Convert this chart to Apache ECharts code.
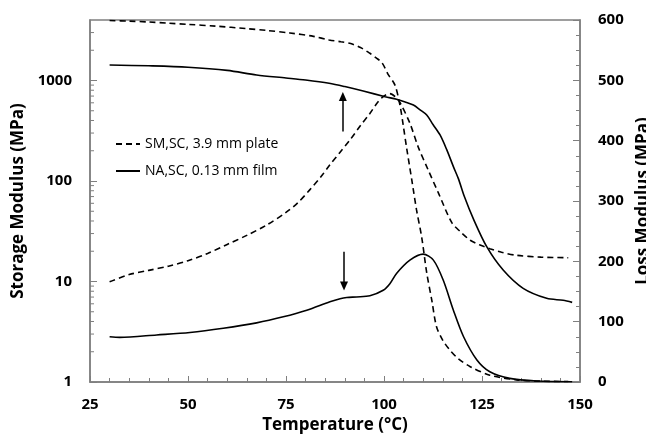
<!DOCTYPE html>
<html>
<head>
<meta charset="utf-8">
<script src="https://cdn.jsdelivr.net/npm/echarts@6/dist/echarts.min.js"></script>
<style>
  html, body { margin: 0; padding: 0; background: #fff; }
  #chart { width: 646px; height: 437px; }
</style>
</head>
<body>
<div id="chart"></div>
<script>
// DMA results: storage modulus (log, left) and loss modulus (linear, right) vs temperature
const seriesNames = ['SM,SC, 3.9 mm plate', 'NA,SC, 0.13 mm film'];

// SM,SC plate - storage modulus (MPa)
const smStorageT = [30, 35, 40, 45, 50, 57, 65, 70, 76, 82, 86, 89, 91.5, 94, 96.4, 98, 99.5, 101, 102.8, 104.1, 104.9, 105.8, 107.1, 108.3, 109.6, 110.9, 112.2, 113.4, 115, 116.8, 119, 122, 127, 133.8, 140, 147];
const smStorageE = [3950, 3900, 3820, 3720, 3620, 3480, 3280, 3150, 2970, 2750, 2530, 2430, 2330, 2130, 1866, 1680, 1500, 1160, 900, 560, 360, 210, 102, 51.5, 27.9, 12.2, 6.5, 3.55, 2.6, 2.08, 1.7, 1.42, 1.17, 1.05, 1.02, 1.01];

// SM,SC plate - loss modulus (MPa)
const smLossT = [30, 35, 40, 45, 50, 55, 60, 65, 70, 75, 78, 81, 84, 86.2, 88.7, 91.3, 94, 96.4, 98.2, 99.8, 101.5, 103, 104.1, 106.6, 108.7, 111.3, 113.9, 117.3, 119.5, 122, 124.5, 127, 130, 133.8, 140, 147];
const smLossE = [166, 178, 185, 192, 201, 213, 228, 243, 260, 281, 297, 318, 341, 360, 380, 401, 425, 445, 462, 473, 478, 472, 463, 429, 390, 351, 313, 264, 249, 235, 227, 221, 215, 210, 207, 206];

// NA,SC film - storage modulus (MPa)
const naStorageT = [30, 40, 50, 60, 67.5, 75, 80, 86, 90, 94.7, 100.3, 103.2, 105.4, 107.5, 109.2, 110.9, 112.5, 114.3, 116, 117.7, 119, 120.5, 122.8, 126.2, 130.4, 135.5, 141.5, 145.7, 148];
const naStorageE = [1426, 1400, 1355, 1260, 1135, 1060, 1011, 938, 870, 786, 690, 650, 612, 570, 511, 454, 365, 287, 205, 139, 105, 70, 42, 22.2, 13, 8.55, 6.8, 6.5, 6.2];

// NA,SC film - loss modulus (MPa)
const naLossT = [30, 32.6, 42, 50.5, 59, 67.5, 74.3, 80.3, 86.2, 88.8, 90.5, 93, 96.4, 99.8, 101.5, 103.2, 106.6, 110, 112.6, 115.1, 117.7, 120.3, 123.7, 127, 132.1, 139, 148];
const naLossE = [75, 74, 78, 82, 89, 98, 108, 119, 133, 138, 140, 141, 143, 152, 163, 180, 202, 212, 202, 169, 119, 75, 36.5, 17, 6, 1.7, 0.5];

// Annotation arrows (temperature, from, to) on the loss-modulus scale
const arrowUp = [89.5, 415, 473];
const arrowDown = [89.8, 216, 159];

// Axis ranges and tick labels
const tempMin = 25, tempMax = 150, tempStep = 25;
const storageMin = 1, storageMax = 4000;
const lossMin = 0, lossMax = 600, lossStep = 100;

// Minor tick positions of the logarithmic storage axis (2..9 in each decade)
const logMinorTicks = [];
for (let d = 1; d <= 1000; d *= 10) {
  for (let k = 2; k <= 9; k++) {
    const v = k * d;
    if (v < storageMax) logMinorTicks.push([tempMin, v]);
  }
}

const pair = (t, v) => t.map((x, i) => [x, v[i]]);

const axisGrey = '#7f7f7f';
const tickFont = { fontFamily: 'Open Sans', fontWeight: 'bold', fontSize: 15, color: '#000' };
const nameFont = { fontFamily: 'Open Sans', fontWeight: 'bold', fontSize: 17, color: '#000' };
const dash = [6, 4];

const chart = echarts.init(document.getElementById('chart'), null, { renderer: 'canvas' });

function curve(name, axis, t, v, style) {
  return {
    name: name, type: 'line', yAxisIndex: axis,
    data: pair(t, v),
    symbol: 'none', smooth: 0.3,
    lineStyle: { color: '#000', width: 1.6, type: style },
    itemStyle: { color: '#000' }
  };
}

const naLossSeries = curve(seriesNames[1], 1, naLossT, naLossE, 'solid');
naLossSeries.markLine = {
  silent: true,
  symbol: ['none', 'triangle'],
  symbolSize: [8, 9],
  label: { show: false },
  lineStyle: { color: '#000', width: 1.5, type: 'solid' },
  data: [
    [{ coord: [arrowUp[0], arrowUp[1]] }, { coord: [arrowUp[0], arrowUp[2]] }],
    [{ coord: [arrowDown[0], arrowDown[1]] }, { coord: [arrowDown[0], arrowDown[2]] }]
  ]
};

chart.setOption({
  animation: false,
  backgroundColor: '#fff',
  grid: {
    left: 90, right: 66, top: 20, bottom: 55,
    show: true, borderColor: axisGrey, borderWidth: 1.5,
    containLabel: false, outerBoundsMode: 'none'
  },
  legend: {
    data: seriesNames,
    orient: 'vertical',
    left: 110,
    top: 132,
    itemWidth: 24,
    itemHeight: 14,
    itemGap: 13,
    itemStyle: { opacity: 0 },
    textStyle: { fontFamily: 'Open Sans', fontSize: 14, color: '#000' }
  },
  xAxis: {
    type: 'value',
    min: tempMin, max: tempMax, interval: tempStep,
    name: 'Temperature (°C)',
    nameLocation: 'middle',
    nameGap: 30,
    nameTextStyle: nameFont,
    axisLine: { show: true, lineStyle: { color: axisGrey, width: 1.5 } },
    axisTick: { show: true, inside: true, length: 6, lineStyle: { color: axisGrey, width: 1 } },
    minorTick: { show: true, splitNumber: 5, length: 4, lineStyle: { color: axisGrey, width: 1 } },
    axisLabel: Object.assign({ margin: 15 }, tickFont),
    splitLine: { show: false }
  },
  yAxis: [
    {
      type: 'log',
      logBase: 10,
      min: storageMin, max: storageMax,
      position: 'left',
      name: 'Storage Modulus (MPa)',
      nameLocation: 'middle',
      nameRotate: 90,
      nameGap: 57,
      nameTextStyle: nameFont,
      axisLine: { show: true, lineStyle: { color: axisGrey, width: 1.5 } },
      axisTick: { show: true, inside: true, length: 7, lineStyle: { color: axisGrey, width: 1 } },
      axisLabel: Object.assign({ margin: 18, showMaxLabel: false, formatter: v => String(Math.round(v)) }, tickFont),
      splitLine: { show: false }
    },
    {
      type: 'value',
      min: lossMin, max: lossMax, interval: lossStep,
      position: 'right',
      name: 'Loss Modulus (MPa)',
      nameLocation: 'middle',
      nameRotate: 90,
      nameGap: 49,
      nameTextStyle: nameFont,
      axisLine: { show: true, lineStyle: { color: axisGrey, width: 1.5 } },
      axisTick: { show: true, inside: true, length: 7, lineStyle: { color: axisGrey, width: 1 } },
      minorTick: { show: true, splitNumber: 4, length: 4, lineStyle: { color: axisGrey, width: 1 } },
      axisLabel: Object.assign({ margin: 18 }, tickFont),
      splitLine: { show: false }
    }
  ],
  series: [
    curve(seriesNames[0], 0, smStorageT, smStorageE, dash),
    curve(seriesNames[0], 1, smLossT, smLossE, dash),
    curve(seriesNames[1], 0, naStorageT, naStorageE, 'solid'),
    naLossSeries,
    {
      // minor ticks for the log axis, drawn inside the plot frame
      type: 'custom', yAxisIndex: 0, silent: true, clip: false,
      data: logMinorTicks,
      renderItem: (params, api) => {
        const p = api.coord([api.value(0), api.value(1)]);
        return { type: 'line', shape: { x1: p[0], y1: p[1], x2: p[0] + 4, y2: p[1] }, style: { stroke: axisGrey, lineWidth: 1 } };
      }
    }
  ]
});
</script>
</body>
</html>
